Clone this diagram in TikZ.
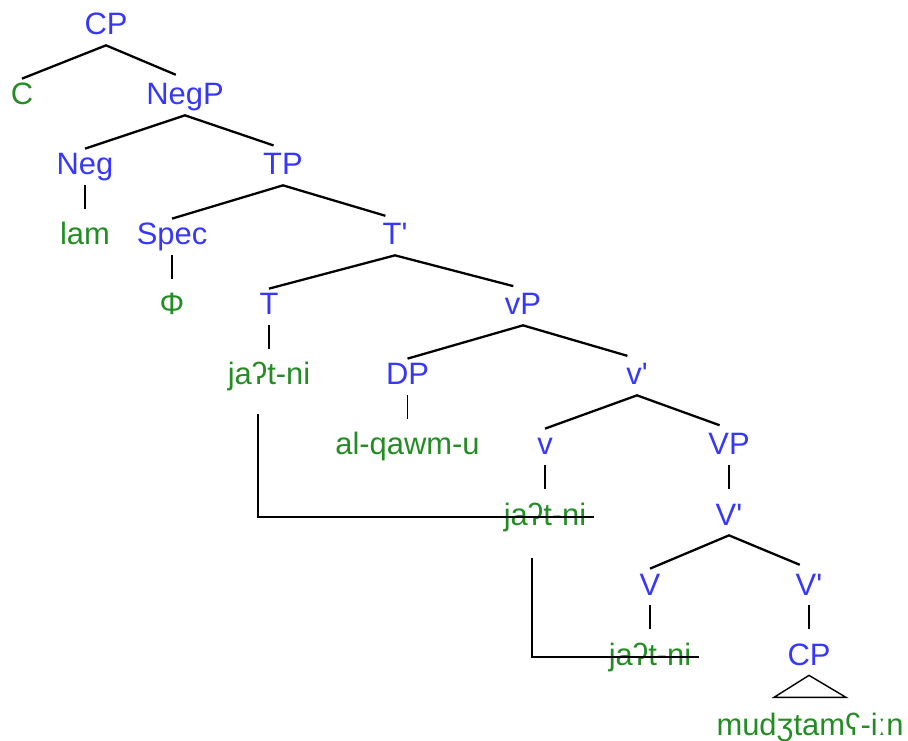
\documentclass[tikz,border=0pt]{standalone}
\usepackage{fontspec}
\setmainfont{Liberation Sans}[Ligatures=TeXOff]
\usepackage{xcolor}
\usepackage{tikz}
\usetikzlibrary{positioning, calc}
\definecolor{catblue}{RGB}{55,55,250}
\definecolor{wordgreen}{RGB}{35,140,35}
\tikzset{
  label/.style={
    anchor=base, inner xsep=4pt, inner ysep=0.08cm,
    text height=0.44cm, text depth=0.12cm,
    font=\fontsize{17.6}{20}\selectfont
  },
  cat/.style={label, text=catblue},
  word/.style={label, text=wordgreen},
  branch/.style={line width=1.3pt, shorten >=0.2cm},
  stem/.style={line width=0.8pt, shorten >=0.2cm},
  trace/.style={line width=0.8pt},
  strike/.style={line width=0.8pt},
}

\begin{document}
\begin{tikzpicture}
  \useasboundingbox (0,0) rectangle (18.16,-14.82);
  % categories and words, one row every 1.4cm
  \node[cat] (cp1) at (2.12,-0.7) {CP};
  \node[word] (c) at (0.44,-2.1) {C};
  \node[cat] (negp) at (3.70,-2.1) {NegP};
  \node[cat] (neg) at (1.70,-3.5) {Neg};
  \node[cat] (tp) at (5.66,-3.5) {TP};
  \node[word] (lam) at (1.70,-4.9) {lam};
  \node[cat] (spec) at (3.44,-4.9) {Spec};
  \node[cat] (tbar) at (7.90,-4.9) {T'};
  \node[word] (phi) at (3.44,-6.3) {Φ};
  \node[cat] (t) at (5.38,-6.3) {T};
  \node[cat] (vp) at (10.46,-6.3) {vP};
  \node[word] (tverb) at (5.38,-7.7) {jaʔt-ni};
  \node[cat] (dp) at (8.15,-7.7) {DP};
  \node[cat] (vbar) at (12.74,-7.7) {v'};
  \node[word] (subj) at (8.15,-9.1) {al-qawm-u};
  \node[cat] (lv) at (10.90,-9.1) {v};
  \node[cat] (bigvp) at (14.58,-9.1) {VP};
  \node[word] (vcopy) at (10.90,-10.5) {jaʔt-ni};
  \node[cat] (vbarA) at (14.58,-10.5) {V'};
  \node[cat] (bigv) at (13.00,-11.9) {V};
  \node[cat] (vbarB) at (16.18,-11.9) {V'};
  \node[word] (vbase) at (13.00,-13.3) {jaʔt-ni};
  \node[cat] (cp2) at (16.18,-13.3) {CP};
  \node[word] (clause) at (16.20,-14.7) {mudʒtamʕ-iːn};

  % binary branches
  \foreach \p/\a/\b in {cp1/c/negp, negp/neg/tp, tp/spec/tbar, tbar/t/vp,
                        vp/dp/vbar, vbar/lv/bigvp, vbarA/bigv/vbarB}
    \draw[branch] (\a.north) -- (\p.south) -- (\b.north);

  % unary branches
  \foreach \p/\a in {neg/lam, spec/phi, t/tverb, dp/subj, lv/vcopy,
                     bigvp/vbarA, bigv/vbase, vbarB/cp2}
    \draw[stem] (\p.south) -- (\a.north);

  % triangle over the embedded clause
  \draw[trace] (cp2.south) -- ++(-0.7,-0.44) -- ++(1.44,0) -- cycle;

  % movement of the verb, with struck-out copies
  \draw[trace] ([shift={(-0.22,-0.38)}]tverb.south) |- (vcopy.west);
  \draw[strike] (vcopy.west) -- (vcopy.east);
  \draw[trace] ([shift={(-0.26,-0.46)}]vcopy.south) |- (vbase.west);
  \draw[strike] (vbase.west) -- (vbase.east);
\end{tikzpicture}
\end{document}
